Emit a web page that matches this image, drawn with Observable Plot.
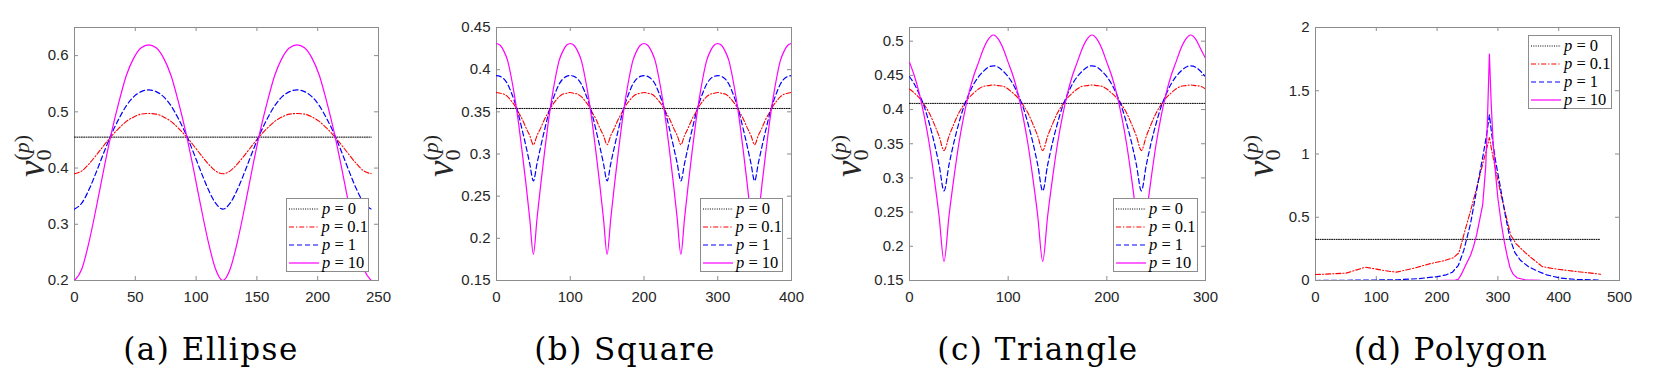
<!DOCTYPE html>
<html><head><meta charset="utf-8">
<script src="https://cdn.jsdelivr.net/npm/d3@7"></script>
<script src="https://cdn.jsdelivr.net/npm/@observablehq/plot@0.6"></script>
<style>
body{margin:0;background:#fff;}
#fig{position:relative;width:1661px;height:376px;overflow:hidden;background:#fff;}
.panel{position:absolute;top:0;}
.legend{position:absolute;border:1px solid #8c8c8c;background:#fff;box-sizing:border-box;padding-top:1px;}
.legend .row{display:flex;align-items:center;height:18px;font-family:"Liberation Serif",serif;font-size:16.5px;color:#000;white-space:nowrap;}
.legend svg{margin-left:2px;margin-right:3px;}
.ylab{position:absolute;transform:translate(-50%,-50%) rotate(-90deg);font-family:"Liberation Serif",serif;white-space:nowrap;color:#262626;line-height:1;}
.ylab .v{font-style:italic;font-size:37px;}
.ylab .sb{font-size:22px;vertical-align:-7px;}
.ylab .sp{font-size:22px;vertical-align:15px;margin-left:-11px;}
.cap{position:absolute;transform:translateX(-50%);font-family:"DejaVu Serif",serif;font-size:31px;letter-spacing:1.5px;white-space:nowrap;top:331px;color:#000;}
</style></head>
<body><div id="fig"></div>
<script>
// ---------- DATA ----------
const seriesLabels = ["0", "0.1", "1", "10"];

// (a) Ellipse
const ellipseX = [0,6.1,12.2,18.3,24.4,30.5,36.6,42.7,48.8,54.9,61,67.1,73.2,79.3,85.4,91.5,97.6,103.7,109.8,115.9,122,128.1,134.2,140.3,146.4,152.5,158.6,164.7,170.8,176.9,183,189.1,195.2,201.3,207.4,213.5,219.6,225.7,231.8,237.9,244];
const ellipseX0 = [0, 244];
const ellipseP0 = [0.455, 0.455];
const ellipseP01 = [0.390,0.395,0.408,0.424,0.441,0.457,0.471,0.483,0.491,0.496,0.497,0.496,0.491,0.483,0.471,0.457,0.441,0.424,0.408,0.395,0.390,0.395,0.408,0.424,0.441,0.457,0.471,0.483,0.491,0.496,0.497,0.496,0.491,0.483,0.471,0.457,0.441,0.424,0.408,0.395,0.390];
const ellipseP1 = [0.327,0.338,0.363,0.395,0.429,0.461,0.488,0.511,0.527,0.536,0.539,0.536,0.527,0.511,0.488,0.461,0.429,0.395,0.363,0.338,0.327,0.338,0.363,0.395,0.429,0.461,0.488,0.511,0.527,0.536,0.539,0.536,0.527,0.511,0.488,0.461,0.429,0.395,0.363,0.338,0.327];
const ellipseP10 = [0.200,0.221,0.271,0.334,0.401,0.464,0.518,0.565,0.596,0.614,0.619,0.614,0.596,0.565,0.518,0.464,0.401,0.334,0.271,0.221,0.200,0.221,0.271,0.334,0.401,0.464,0.518,0.565,0.596,0.614,0.619,0.614,0.596,0.565,0.518,0.464,0.401,0.334,0.271,0.221,0.200];
const ellipseXTicks = [0, 50, 100, 150, 200, 250];
const ellipseYTicks = [0.2, 0.3, 0.4, 0.5, 0.6];

// (b) Square
const squareX = [0,5,10,15,20,25,30,35,40,45,50,55,60,65,70,75,80,85,90,95,100,105,110,115,120,125,130,135,140,145,150,155,160,165,170,175,180,185,190,195,200,205,210,215,220,225,230,235,240,245,250,255,260,265,270,275,280,285,290,295,300,305,310,315,320,325,330,335,340,345,350,355,360,365,370,375,380,385,390,395,400];
const squareX0 = [0, 400];
const squareP0 = [0.354, 0.354];
const squareP01 = [0.373,0.372,0.371,0.368,0.363,0.357,0.349,0.341,0.331,0.322,0.311,
0.322,0.331,0.341,0.349,0.357,0.363,0.368,0.371,0.372,0.373,
0.372,0.371,0.368,0.363,0.357,0.349,0.341,0.331,0.322,0.311,
0.322,0.331,0.341,0.349,0.357,0.363,0.368,0.371,0.372,0.373,
0.372,0.371,0.368,0.363,0.357,0.349,0.341,0.331,0.322,0.311,
0.322,0.331,0.341,0.349,0.357,0.363,0.368,0.371,0.372,0.373,
0.372,0.371,0.368,0.363,0.357,0.349,0.341,0.331,0.322,0.311,
0.322,0.331,0.341,0.349,0.357,0.363,0.368,0.371,0.372,0.373];
const squareP1 = [0.393,0.392,0.389,0.383,0.373,0.361,0.346,0.328,0.309,0.289,0.268,
0.289,0.309,0.328,0.346,0.361,0.373,0.383,0.389,0.392,0.393,
0.392,0.389,0.383,0.373,0.361,0.346,0.328,0.309,0.289,0.268,
0.289,0.309,0.328,0.346,0.361,0.373,0.383,0.389,0.392,0.393,
0.392,0.389,0.383,0.373,0.361,0.346,0.328,0.309,0.289,0.268,
0.289,0.309,0.328,0.346,0.361,0.373,0.383,0.389,0.392,0.393,
0.392,0.389,0.383,0.373,0.361,0.346,0.328,0.309,0.289,0.268,
0.289,0.309,0.328,0.346,0.361,0.373,0.383,0.389,0.392,0.393];
const squareP10 = [0.431,0.429,0.422,0.411,0.391,0.366,0.336,0.301,0.264,0.224,0.181,
0.224,0.264,0.301,0.336,0.366,0.391,0.411,0.422,0.429,0.431,
0.429,0.422,0.411,0.391,0.366,0.336,0.301,0.264,0.224,0.181,
0.224,0.264,0.301,0.336,0.366,0.391,0.411,0.422,0.429,0.431,
0.429,0.422,0.411,0.391,0.366,0.336,0.301,0.264,0.224,0.181,
0.224,0.264,0.301,0.336,0.366,0.391,0.411,0.422,0.429,0.431,
0.429,0.422,0.411,0.391,0.366,0.336,0.301,0.264,0.224,0.181,
0.224,0.264,0.301,0.336,0.366,0.391,0.411,0.422,0.429,0.431];
const squareXTicks = [0, 100, 200, 300, 400];
const squareYTicks = [0.15, 0.2, 0.25, 0.3, 0.35, 0.4, 0.45];

// (c) Triangle
const triangleX = [0,5,10,15,20,25,30,35,40,45,50,55,60,65,70,75,80,85,90,95,100,105,110,115,120,125,130,135,140,145,150,155,160,165,170,175,180,185,190,195,200,205,210,215,220,225,230,235,240,245,250,255,260,265,270,275,280,285,290,295,300];
const triangleX0 = [0, 300];
const triangleP0 = [0.409, 0.409];
const triangleP01 = [0.430,0.424,0.417,0.407,0.395,0.379,0.361,0.340,
0.361,0.379,0.395,0.407,0.417,0.424,0.430,0.434,0.435,0.436,
0.435,0.434,0.430,0.424,0.417,0.407,0.395,0.379,0.361,0.340,
0.361,0.379,0.395,0.407,0.417,0.424,0.430,0.434,0.435,0.436,
0.435,0.434,0.430,0.424,0.417,0.407,0.395,0.379,0.361,0.340,
0.361,0.379,0.395,0.407,0.417,0.424,0.430,0.434,0.435,0.436,
0.435,0.434,0.430];
const triangleP1 = [0.448,0.437,0.422,0.404,0.380,0.352,0.319,0.281,
0.319,0.352,0.380,0.404,0.422,0.437,0.448,0.456,0.462,0.464,
0.462,0.456,0.448,0.437,0.422,0.404,0.380,0.352,0.319,0.281,
0.319,0.352,0.380,0.404,0.422,0.437,0.448,0.456,0.462,0.464,
0.462,0.456,0.448,0.437,0.422,0.404,0.380,0.352,0.319,0.281,
0.319,0.352,0.380,0.404,0.422,0.437,0.448,0.456,0.462,0.464,
0.462,0.456,0.448];
const triangleP10 = [0.469,0.449,0.423,0.390,0.350,0.300,0.244,0.178,
0.244,0.300,0.350,0.390,0.423,0.449,0.469,0.489,0.503,0.509,
0.503,0.489,0.469,0.449,0.423,0.390,0.350,0.300,0.244,0.178,
0.244,0.300,0.350,0.390,0.423,0.449,0.469,0.489,0.503,0.509,
0.503,0.489,0.469,0.449,0.423,0.390,0.350,0.300,0.244,0.178,
0.244,0.300,0.350,0.390,0.423,0.449,0.469,0.489,0.503,0.509,
0.503,0.489,0.475];
const triangleXTicks = [0, 100, 200, 300];
const triangleYTicks = [0.15, 0.2, 0.25, 0.3, 0.35, 0.4, 0.45, 0.5];

// (d) Polygon
const polygonX0 = [0, 469];
const polygonP0 = [0.325, 0.325];
const polygonX01 = [0,25,50,65,82,100,115,133,160,190,210,227,236,245,255,265,275,281,286,291,297,305,313,321,330,345,360,373,390,410,430,450,469];
const polygonP01 = [0.047,0.052,0.058,0.080,0.105,0.090,0.077,0.066,0.095,0.135,0.155,0.180,0.220,0.380,0.550,0.730,0.920,1.030,1.130,1.000,0.860,0.680,0.520,0.360,0.290,0.220,0.160,0.110,0.095,0.082,0.070,0.060,0.050];
const polygonX1 = [0,50,100,135,170,200,215,225,235,244,255,266,276,282,286,290,296,304,312,320,328,337,350,365,380,402,430,469];
const polygonP1 = [0,0.002,0.004,0.006,0.015,0.030,0.045,0.065,0.120,0.240,0.450,0.740,1.000,1.170,1.310,1.150,0.950,0.740,0.520,0.330,0.220,0.160,0.110,0.075,0.045,0.020,0.008,0.003];
const polygonX10 = [0,100,200,230,235,240,245,250,255,260,265,270,275,280,283,286,289,292,296,300,305,310,315,320,325,332,345,370,469];
const polygonP10 = [0,0,0,0.003,0.010,0.050,0.100,0.150,0.200,0.270,0.360,0.480,0.600,0.900,1.300,1.790,1.400,1.100,0.850,0.650,0.470,0.320,0.200,0.100,0.050,0.020,0.006,0.001,0];
const polygonXTicks = [0, 100, 200, 300, 400, 500];
const polygonYTicks = [0, 0.5, 1, 1.5, 2];

// ---------- STYLE / LAYOUT ----------
const styles = [
  {color: "#000000", dash: "1,1.3", width: 1},
  {color: "#ff0000", dash: "5,2,1.2,2", width: 1.1},
  {color: "#0000ff", dash: "5,3", width: 1.2},
  {color: "#ff00ff", dash: null, width: 1.2}
];
const axisC = "#8c8c8c";
const ML = 70, MR = 20, MT = 27, MB = 30, H = 310;

const panels = [
  {L: 74, R: 378, xd: [0, 250], yd: [0.2, 0.65], xt: ellipseXTicks, yt: ellipseYTicks,
   series: [[ellipseX0, ellipseP0], [ellipseX, ellipseP01], [ellipseX, ellipseP1], [ellipseX, ellipseP10]],
   curve: "monotone-x", caption: "(a) Ellipse", capX: 211, ylabX: 33,
   legend: {x: 286, y: 198, w: 83, h: 74}},
  {L: 496, R: 791, xd: [0, 400], yd: [0.15, 0.45], xt: squareXTicks, yt: squareYTicks,
   series: [[squareX0, squareP0], [squareX, squareP01], [squareX, squareP1], [squareX, squareP10]],
   curve: "monotone-x", caption: "(b) Square", capX: 625, ylabX: 442,
   legend: {x: 700, y: 198, w: 83, h: 74}},
  {L: 909, R: 1205, xd: [0, 300], yd: [0.15, 0.52], xt: triangleXTicks, yt: triangleYTicks,
   series: [[triangleX0, triangleP0], [triangleX, triangleP01], [triangleX, triangleP1], [triangleX, triangleP10]],
   curve: "monotone-x", caption: "(c) Triangle", capX: 1038, ylabX: 850,
   legend: {x: 1113, y: 198, w: 85, h: 74}},
  {L: 1315, R: 1619, xd: [0, 500], yd: [0, 2], xt: polygonXTicks, yt: polygonYTicks,
   series: [[polygonX0, polygonP0], [polygonX01, polygonP01], [polygonX1, polygonP1], [polygonX10, polygonP10]],
   curve: "linear", caption: "(d) Polygon", capX: 1451, ylabX: 1262,
   legend: {x: 1528, y: 35, w: 84, h: 74}}
];

const fig = document.getElementById("fig");
const fmt = d => String(d);

for (const p of panels) {
  const pw = p.R - p.L, ph = H - MT - MB;
  const marks = [
    Plot.frame({stroke: axisC, strokeWidth: 1}),
    Plot.tickX(p.xt, {x: d => d, stroke: axisC, insetTop: ph - 4}),
    Plot.tickX(p.xt, {x: d => d, stroke: axisC, insetBottom: ph - 4}),
    Plot.tickY(p.yt, {y: d => d, stroke: axisC, insetLeft: pw - 4}),
    Plot.tickY(p.yt, {y: d => d, stroke: axisC, insetRight: pw - 4}),
    Plot.axisX({ticks: p.xt, tickSize: 0, tickPadding: 11, tickFormat: fmt, label: null}),
    Plot.axisY({ticks: p.yt, tickSize: 0, tickPadding: 6, tickFormat: fmt, label: null})
  ];
  p.series.forEach(([xs, ys], i) => {
    const s = styles[i];
    marks.push(Plot.line(ys.map((y, j) => ({x: xs[j], y})), {
      x: "x", y: "y", stroke: s.color, strokeWidth: s.width,
      strokeDasharray: s.dash || undefined, curve: i === 0 ? "linear" : p.curve, clip: true
    }));
  });
  const chart = Plot.plot({
    width: pw + ML + MR, height: H,
    marginLeft: ML, marginRight: MR, marginTop: MT, marginBottom: MB,
    x: {domain: p.xd}, y: {domain: p.yd},
    style: {fontFamily: "'Liberation Sans', Arial, sans-serif", fontSize: "15px", color: "#262626", background: "transparent", overflow: "visible"},
    marks
  });
  chart.classList.add("panel");
  chart.style.left = (p.L - ML) + "px";
  chart.style.top = "0px";
  chart.style.position = "absolute";
  fig.appendChild(chart);

  // y label  v_0^(p)
  const yl = document.createElement("div");
  yl.className = "ylab";
  yl.style.left = p.ylabX + "px";
  yl.style.top = "156px";
  yl.innerHTML = '<span class="v">v</span><span class="sb">0</span><span class="sp">(<i>p</i>)</span>';
  fig.appendChild(yl);

  // legend
  const lg = document.createElement("div");
  lg.className = "legend";
  Object.assign(lg.style, {left: p.legend.x + "px", top: p.legend.y + "px", width: p.legend.w + "px", height: p.legend.h + "px"});
  seriesLabels.forEach((lab, i) => {
    const s = styles[i];
    const row = document.createElement("div");
    row.className = "row";
    row.innerHTML = `<svg width="30" height="10"><line x1="0" y1="5" x2="30" y2="5" stroke="${s.color}" stroke-width="${s.width}" ${s.dash ? `stroke-dasharray="${s.dash}"` : ""}/></svg><span><i>p</i> = ${lab}</span>`;
    lg.appendChild(row);
  });
  fig.appendChild(lg);

  // caption
  const cap = document.createElement("div");
  cap.className = "cap";
  cap.style.left = p.capX + "px";
  cap.textContent = p.caption;
  fig.appendChild(cap);
}
</script></body></html>
